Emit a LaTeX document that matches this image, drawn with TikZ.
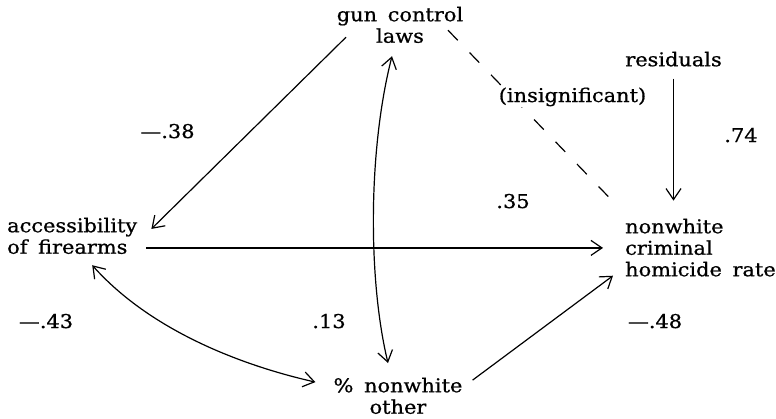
\documentclass[tikz,border=0pt]{standalone}
\usepackage{fontspec}
\setmainfont{DejaVu Serif}[FakeStretch=1.1, WordSpace=1.6, FakeBold=0.8]
\usetikzlibrary{arrows.meta,calc}
\tikzset{
  every node/.style={font=\fontsize{19}{21.5}\selectfont, inner sep=0pt},
  lbl/.style={anchor=base},
  arr/.style={-{Straight Barb[length=11pt,width=15pt]}, line width=1.2pt},
  dbl/.style={{Straight Barb[length=11pt,width=15pt]}-{Straight Barb[length=11pt,width=15pt]}, line width=1.2pt},
  dsh/.style={line width=1.2pt, dash pattern=on 14pt off 17pt}
}
\begin{document}
\begin{tikzpicture}[x=1pt,y=-1pt]
\useasboundingbox[fill=white] (0,0) rectangle (776,418);
% main nodes
\node[anchor=north, align=center] (gun) at (400,6.6) {gun control\\laws};
\node[anchor=north west, align=left] (acc) at (7,217.6) {accessibility\\of firearms};
\node[anchor=north west, align=left] (hom) at (625,218.6) {nonwhite\\criminal\\homicide rate};
\node[anchor=north, align=center] (pct) at (398,377.6) {\% nonwhite\\other};
\node[anchor=north] (res) at (673.5,51.6) {residuals};
% connectors
\draw[dsh] ($(gun.south)+(48,-13)$) -- ($(hom.north west)+(-8,-13)$);
\draw[arr] ($(gun.south)+(-54,-6)$) -- ($(acc.east)+(14,-7)$);
\draw[arr] ($(acc.east)+(9,12)$) coordinate (h1) -- ($(h1 -| hom.west)+(-22,0)$);
\draw[arr] ($(res.south)+(0,12)$) coordinate (r1) -- ($(r1 |- hom.north)+(0,-18)$);
\draw[arr] ($(pct.north east)+(10,2.5)$) -- ($(hom.south west)+(-12,-1)$);
\draw[dbl] ($(acc.south)+(20,11)$) .. controls (150,330) and (240,365) .. ($(pct.north west)+(-18,4.5)$);
\draw[dbl] ($(gun.south)+(-8,13)$) .. controls (368,150) and (368,280) .. ($(pct.north)+(-10,-14.6)$);
% labels
\node[lbl, fill=white, inner sep=1pt] (ins) at (572.5,102) {(insignificant)};
\node[lbl] (l38) at (167.5,138) {—.38};
\node[lbl] (l74) at (741,142) {.74};
\node[lbl] (l35) at (513,208) {.35};
\node[lbl] (l43) at (46,328) {—.43};
\node[lbl] (l13) at (329,328) {.13};
\node[lbl] (l48) at (655,328) {—.48};
\end{tikzpicture}
\end{document}
